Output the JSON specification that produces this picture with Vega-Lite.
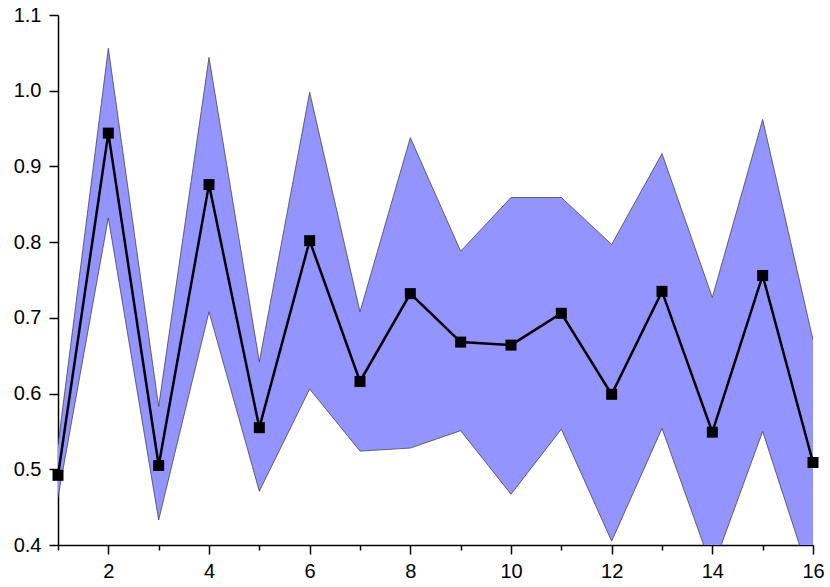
{
  "$schema": "https://vega.github.io/schema/vega-lite/v6.json",
  "width": 755,
  "height": 530,
  "autosize": {"type": "none"},
  "padding": {"left": 58, "top": 15, "right": 17, "bottom": 42},
  "background": "white",
  "view": {"stroke": null},
  "config": {
    "font": "Liberation Sans",
    "axis": {
      "domainColor": "#000000",
      "domainWidth": 1.5,
      "tickColor": "#000000",
      "tickWidth": 1.5,
      "labelColor": "#000000",
      "labelFontSize": 20,
      "labelFont": "Liberation Sans",
      "grid": false,
      "title": null
    }
  },
  "data": {
    "values": [
      {"x": 1, "mean": 0.492, "lo": 0.463, "hi": 0.532},
      {"x": 2, "mean": 0.944, "lo": 0.832, "hi": 1.056},
      {"x": 3, "mean": 0.505, "lo": 0.433, "hi": 0.583},
      {"x": 4, "mean": 0.876, "lo": 0.708, "hi": 1.044},
      {"x": 5, "mean": 0.555, "lo": 0.471, "hi": 0.642},
      {"x": 6, "mean": 0.802, "lo": 0.606, "hi": 0.998},
      {"x": 7, "mean": 0.616, "lo": 0.524, "hi": 0.708},
      {"x": 8, "mean": 0.732, "lo": 0.528, "hi": 0.938},
      {"x": 9, "mean": 0.668, "lo": 0.551, "hi": 0.788},
      {"x": 10, "mean": 0.664, "lo": 0.467, "hi": 0.859},
      {"x": 11, "mean": 0.706, "lo": 0.553, "hi": 0.859},
      {"x": 12, "mean": 0.599, "lo": 0.405, "hi": 0.797},
      {"x": 13, "mean": 0.735, "lo": 0.554, "hi": 0.917},
      {"x": 14, "mean": 0.549, "lo": 0.368, "hi": 0.727},
      {"x": 15, "mean": 0.756, "lo": 0.55, "hi": 0.962},
      {"x": 16, "mean": 0.509, "lo": 0.345, "hi": 0.671}
    ]
  },
  "encoding": {
    "x": {
      "field": "x",
      "type": "quantitative",
      "scale": {"domain": [1, 16], "nice": false, "zero": false},
      "axis": {
        "values": [1,2,3,4,5,6,7,8,9,10,11,12,13,14,15,16],
        "labelExpr": "datum.value % 2 == 0 ? datum.label : ''",
        "tickSize": {"condition": {"test": "datum.value % 2 == 1", "value": 5}, "value": 9},
        "labelPadding": 7,
        "labelFlush": false,
        "labelOverlap": false
      }
    }
  },
  "layer": [
    {
      "mark": {"type": "area", "clip": true, "fill": "#9494ff", "opacity": 1},
      "encoding": {
        "y": {
          "field": "lo",
          "type": "quantitative",
          "scale": {"domain": [0.4, 1.1], "nice": false, "zero": false},
          "axis": {
            "values": [0.4,0.45,0.5,0.55,0.6,0.65,0.7,0.75,0.8,0.85,0.9,0.95,1.0,1.05,1.1],
            "labelExpr": "round(datum.value*20) % 2 == 0 ? format(datum.value, '.1f') : ''",
            "tickSize": {"condition": {"test": "round(datum.value*20) % 2 == 1", "value": 5}, "value": 9},
            "labelPadding": 8,
            "labelFlush": false,
            "labelOverlap": false
          }
        },
        "y2": {"field": "hi"}
      }
    },
    {
      "mark": {"type": "line", "clip": true, "stroke": "#333333", "strokeWidth": 0.7},
      "encoding": {"y": {"field": "hi", "type": "quantitative"}}
    },
    {
      "mark": {"type": "line", "clip": true, "stroke": "#333333", "strokeWidth": 0.7},
      "encoding": {"y": {"field": "lo", "type": "quantitative"}}
    },
    {
      "mark": {"type": "line", "stroke": "#000000", "strokeWidth": 2.5},
      "encoding": {"y": {"field": "mean", "type": "quantitative"}}
    },
    {
      "mark": {"type": "point", "shape": "square", "filled": true, "color": "#000000", "size": 121, "opacity": 1},
      "encoding": {"y": {"field": "mean", "type": "quantitative"}}
    }
  ]
}
